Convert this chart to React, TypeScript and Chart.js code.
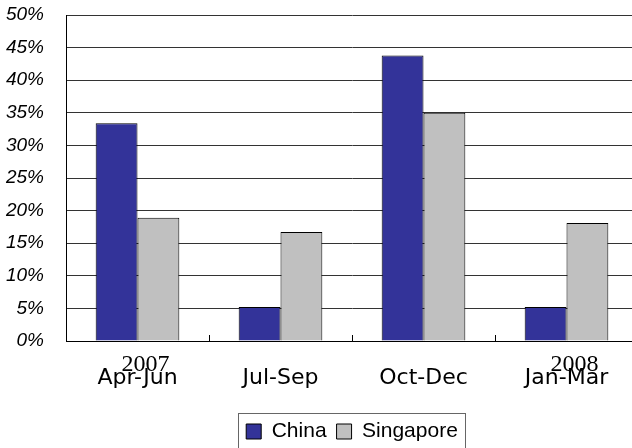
import { useEffect, useRef } from 'react';
import { Chart, registerables } from 'chart.js';

Chart.register(...registerables);

const categories = ['Apr-Jun', 'Jul-Sep', 'Oct-Dec', 'Jan-Mar'];
const years = ['2007', '', '', '2008'];
const china = [33.4, 5.2, 43.8, 5.2];
const singapore = [18.9, 16.7, 35.0, 18.1];
const yMin = 0;
const yMax = 50;
const yStep = 5;

const SANS = '"Liberation Sans", Arial, sans-serif';
const DEJAVU = '"DejaVu Sans", sans-serif';
const SERIF = '"Liberation Serif", "Times New Roman", serif';

const yearPlugin = {
  id: 'yearLabels',
  afterDraw(chart: any) {
    const xs = chart.scales.x;
    const ctx = chart.ctx;
    ctx.save();
    ctx.font = `24px ${SERIF}`;
    ctx.fillStyle = '#000';
    ctx.textAlign = 'center';
    ctx.textBaseline = 'alphabetic';
    years.forEach((yr, i) => {
      if (!yr) return;
      ctx.fillText(yr, xs.getPixelForValue(i) + 8, xs.top + 30);
    });
    ctx.restore();
  },
};

const legendBorder = {
  id: 'legendBorder',
  afterDraw(chart: any) {
    const lg = chart.legend;
    if (!lg || !lg.legendHitBoxes || !lg.legendHitBoxes.length) return;
    const hb = lg.legendHitBoxes;
    const left = Math.round(hb[0].left - 8) + 0.5;
    const last = hb[hb.length - 1];
    const right = Math.round(last.left + last.width + 7) + 0.5;
    const top = Math.round(lg.top + 2) + 0.5;
    const ctx = chart.ctx;
    ctx.save();
    ctx.strokeStyle = '#666';
    ctx.lineWidth = 1;
    ctx.strokeRect(left, top, right - left, chart.height + 20 - top);
    ctx.restore();
  },
};

export default function App() {
  const ref = useRef<HTMLCanvasElement | null>(null);
  useEffect(() => {
    if (!ref.current) return;
    const chart = new Chart(ref.current, {
      type: 'bar',
      data: {
        labels: categories,
        datasets: [
          {
            label: 'China',
            data: china,
            backgroundColor: '#333399',
            borderColor: '#000',
            borderWidth: 1,
            categoryPercentage: 0.585,
            barPercentage: 1,
          },
          {
            label: 'Singapore',
            data: singapore,
            backgroundColor: '#C0C0C0',
            borderColor: '#000',
            borderWidth: 1,
            categoryPercentage: 0.585,
            barPercentage: 1,
          },
        ],
      },
      options: {
        responsive: false,
        animation: false,
        layout: { padding: { top: 15, right: 42, bottom: 0, left: 0 } },
        plugins: {
          legend: {
            position: 'bottom',
            fullSize: false,
            labels: {
              font: { family: SANS, size: 21 },
              color: '#000',
              boxWidth: 15,
              boxHeight: 15,
              padding: 10,
            },
          },
          tooltip: { enabled: false },
        },
        scales: {
          x: {
            grid: {
              display: true,
              drawOnChartArea: false,
              drawTicks: true,
              tickLength: -6,
              color: '#000',
              offset: true,
            },
            border: { color: '#000', width: 1 },
            ticks: {
              font: { family: DEJAVU, size: 22, lineHeight: 1.2 },
              color: '#000',
              padding: 30,
              maxRotation: 0,
              autoSkip: false,
            },
            afterFit: (s: any) => {
              s.height = 70;
            },
          },
          y: {
            min: yMin,
            max: yMax,
            ticks: {
              stepSize: yStep,
              callback: (v: any) => `${v}%`,
              font: { family: SANS, size: 19, style: 'italic' },
              color: '#000',
              padding: 3,
            },
            grid: { color: '#333', drawTicks: true, tickLength: 19, tickColor: 'rgba(0,0,0,0)' },
            border: { color: '#000', width: 1 },
            afterFit: (s: any) => {
              s.width = 66;
            },
          },
        },
      },
      plugins: [yearPlugin, legendBorder],
    });
    return () => chart.destroy();
  }, []);

  return (
    <div
      style={{
        position: 'fixed',
        left: 0,
        top: 0,
        width: 632,
        height: 448,
        overflow: 'hidden',
        background: '#fff',
      }}
    >
      <canvas ref={ref} width={680} height={452} style={{ display: 'block' }} />
    </div>
  );
}
